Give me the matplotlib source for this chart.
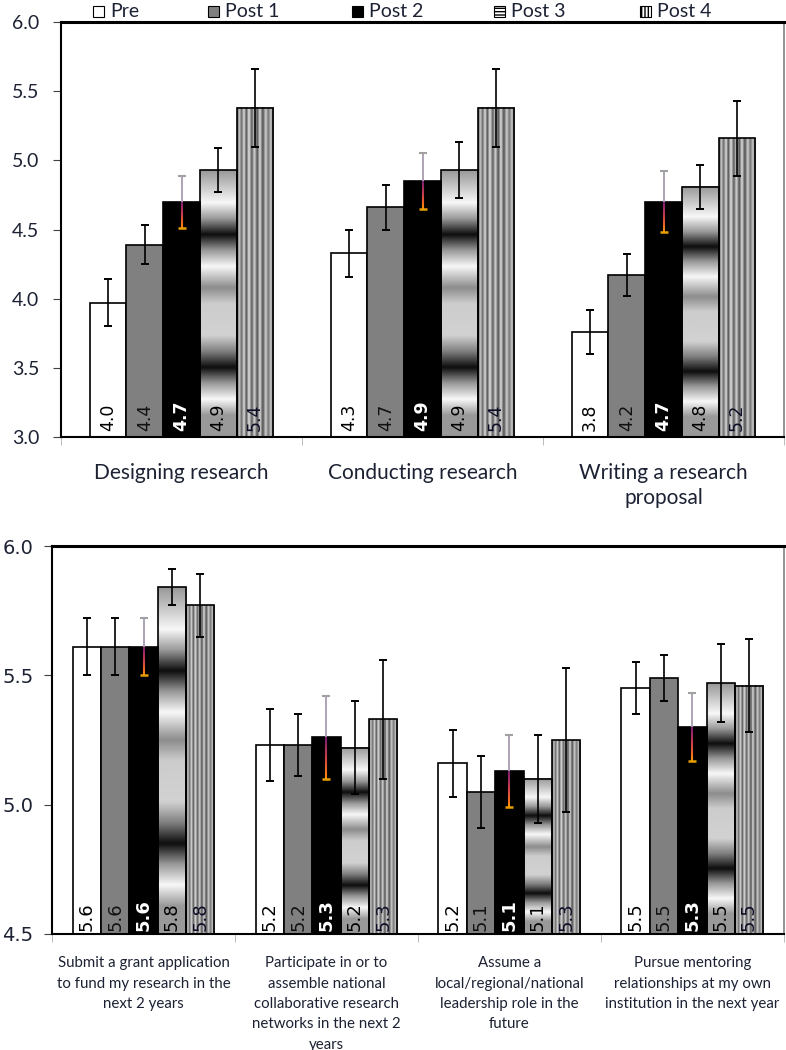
import numpy as np
import matplotlib
matplotlib.use('Agg')
import matplotlib.pyplot as plt
from matplotlib.patches import Rectangle
from matplotlib.collections import LineCollection

# データ
series = ['Pre', 'Post 1', 'Post 2', 'Post 3', 'Post 4']

top_cats = ['Designing research', 'Conducting research', 'Writing a research\nproposal']
top_means = [
    [3.97, 4.39, 4.70, 4.93, 5.38],
    [4.33, 4.66, 4.85, 4.93, 5.38],
    [3.76, 4.17, 4.70, 4.81, 5.16],
]
top_err = [
    [0.17, 0.14, 0.19, 0.16, 0.28],
    [0.17, 0.16, 0.20, 0.20, 0.28],
    [0.16, 0.15, 0.22, 0.16, 0.27],
]
top_labels = [
    ['4.0', '4.4', '4.7', '4.9', '5.4'],
    ['4.3', '4.7', '4.9', '4.9', '5.4'],
    ['3.8', '4.2', '4.7', '4.8', '5.2'],
]

bot_cats = [
    'Submit a grant application\nto fund my research in the\nnext 2 years',
    'Participate in or to\nassemble national\ncollaborative research\nnetworks in the next 2\nyears',
    'Assume a\nlocal/regional/national\nleadership role in the\nfuture',
    'Pursue mentoring\nrelationships at my own\ninstitution in the next year',
]
bot_means = [
    [5.61, 5.61, 5.61, 5.84, 5.77],
    [5.23, 5.23, 5.26, 5.22, 5.33],
    [5.16, 5.05, 5.13, 5.10, 5.25],
    [5.45, 5.49, 5.30, 5.47, 5.46],
]
bot_err = [
    [0.11, 0.11, 0.11, 0.07, 0.12],
    [0.14, 0.12, 0.16, 0.18, 0.23],
    [0.13, 0.14, 0.14, 0.17, 0.28],
    [0.10, 0.09, 0.13, 0.15, 0.18],
]
bot_labels = [
    ['5.6', '5.6', '5.6', '5.8', '5.8'],
    ['5.2', '5.2', '5.3', '5.2', '5.3'],
    ['5.2', '5.1', '5.1', '5.1', '5.3'],
    ['5.5', '5.5', '5.3', '5.5', '5.5'],
]

# 塗りのテクスチャ（Post 3: 横縞グラデーション, Post 4: 縦縞）
tex3_pos = [0, 0.05, 0.12, 0.18, 0.24, 0.30, 0.36, 0.44, 0.50, 0.62, 0.68, 0.74, 0.80, 0.86, 0.92, 1.0]
tex3_val = [0.6, 0.75, 0.97, 0.6, 0.05, 0.6, 0.97, 0.55, 0.8, 0.82, 0.5, 0.05, 0.6, 0.97, 0.6, 0.6]
tex4_pos = [0, 0.06, 0.12, 0.19, 0.25, 0.32, 0.40, 0.47, 0.55, 0.62, 0.70, 0.78, 0.85, 0.92, 1.0]
tex4_val = [0.3, 0.8, 0.4, 0.88, 0.3, 0.9, 0.35, 0.85, 0.3, 0.88, 0.3, 0.82, 0.45, 0.78, 0.4]

face = ['white', '#808080', 'black', None, None]
lab_color = ['black', '#111111', 'white', 'black', '#0d0d26']
txt_color = '#1c2233'

plt.rcParams['font.family'] = ['Lato', 'DejaVu Sans']

fig = plt.figure(figsize=(7.86, 10.5), dpi=100)
ax1 = fig.add_axes([0.0776, 0.5838, 0.92, 0.3952])
ax2 = fig.add_axes([0.0662, 0.1105, 0.931, 0.3695])


def draw_panel(ax, cats, means, errs, labels, ymin, ymax, w, lab_fs, lab_pad):
    n = len(cats)
    grad3 = np.interp(np.linspace(0, 1, 200), tex3_pos, tex3_val).reshape(-1, 1)
    grad4 = np.interp(np.linspace(0, 1, 100), tex4_pos, tex4_val).reshape(1, -1)
    for i in range(n):
        for j in range(5):
            x = i + (j - 2) * w
            m = means[i][j]
            e = errs[i][j]
            if j in (3, 4):
                g = grad3 if j == 3 else grad4
                ax.imshow(g, extent=[x - w / 2, x + w / 2, ymin, m], aspect='auto',
                          cmap='gray', vmin=0, vmax=1, origin='upper', zorder=1,
                          interpolation='bilinear')
                ax.bar(x, m - ymin, w, bottom=ymin, facecolor='none', edgecolor='black',
                       linewidth=1.2, zorder=2)
            else:
                ax.bar(x, m - ymin, w, bottom=ymin, facecolor=face[j], edgecolor='black',
                       linewidth=1.2, zorder=2)
            # 誤差棒
            if j == 2:
                ax.plot([x, x], [m, m + e], color='#a89cb0', lw=1.3, zorder=3)
                ax.plot([x], [m + e], marker='_', ms=6, mew=1.5, color='#a0a0a0', zorder=3)
                ys = np.linspace(m, m - e, 20)
                segs = [[(x, ys[k]), (x, ys[k + 1])] for k in range(19)]
                cols = plt.cm.inferno(np.linspace(0.35, 0.75, 19))
                ax.add_collection(LineCollection(segs, colors=cols, linewidths=1.5, zorder=3))
                ax.plot([x], [m - e], marker='_', ms=6, mew=1.8, color='#e8a000', zorder=3)
            else:
                ax.errorbar(x, m, yerr=e, fmt='none', ecolor='black', elinewidth=1.2,
                            capsize=3, capthick=1.4, zorder=3)
            bold = 'bold' if j == 2 else 'normal'
            ax.text(x, ymin + lab_pad, labels[i][j], rotation=90, ha='center', va='bottom',
                    fontsize=lab_fs, color=lab_color[j], fontweight=bold,
                    family='DejaVu Sans', zorder=4)
    ax.set_xlim(-0.5, n - 0.5)
    ax.set_ylim(ymin, ymax)
    ax.set_xticks(range(n))
    ax.set_xticks(np.arange(-0.5, n, 1.0), minor=True)
    ax.tick_params(axis='x', which='major', length=0, labelcolor=txt_color)
    ax.tick_params(axis='x', which='minor', length=6, color='#b0b0b0', direction='out')
    ax.tick_params(axis='y', length=5.5, direction='out', color='#404040', labelcolor=txt_color)
    ax.spines['top'].set_linewidth(2.2)
    ax.spines['left'].set_linewidth(1.5)
    ax.spines['bottom'].set_linewidth(1.5)
    ax.spines['right'].set_color('#808080')
    ax.spines['right'].set_linewidth(1.2)


draw_panel(ax1, top_cats, top_means, top_err, top_labels, 3.0, 6.0, 0.1525, 12.5, 0.045)
ax1.set_yticks(np.arange(3.0, 6.01, 0.5))
ax1.set_yticklabels([f'{v:.1f}' for v in np.arange(3.0, 6.01, 0.5)], fontsize=14)
ax1.tick_params(axis='y', pad=10)
ax1.set_xticklabels(top_cats, fontsize=15, linespacing=1.3)
ax1.tick_params(axis='x', which='major', pad=19)

draw_panel(ax2, bot_cats, bot_means, bot_err, bot_labels, 4.5, 6.0, 0.155, 13, 0.012)
ax2.set_yticks([4.5, 5.0, 5.5, 6.0])
ax2.set_yticklabels(['4.5', '5.0', '5.5', '6.0'], fontsize=14, family='DejaVu Sans')
ax2.tick_params(axis='y', pad=8)
ax2.set_xticklabels(bot_cats, fontsize=10.8, linespacing=1.58, va='top')
ax2.tick_params(axis='x', which='major', pad=16)

# 凡例（上部に横並び）
leg_x = [93, 208, 352, 494, 640]
for j, name in enumerate(series):
    x0 = leg_x[j] / 786
    y0 = 1 - 17 / 1050
    fc = face[j] if face[j] is not None else 'white'
    hatch = {3: '-----', 4: '|||||'}.get(j)
    r = Rectangle((x0, y0), 11 / 786, 11 / 1050, transform=fig.transFigure,
                  facecolor=fc, edgecolor='black', linewidth=0.8, hatch=hatch)
    fig.add_artist(r)
    fig.text(x0 + 17 / 786, y0 + 5.5 / 1050, name, fontsize=14, va='center', ha='left',
             color=txt_color)

fig.savefig('out.png', dpi=100)
